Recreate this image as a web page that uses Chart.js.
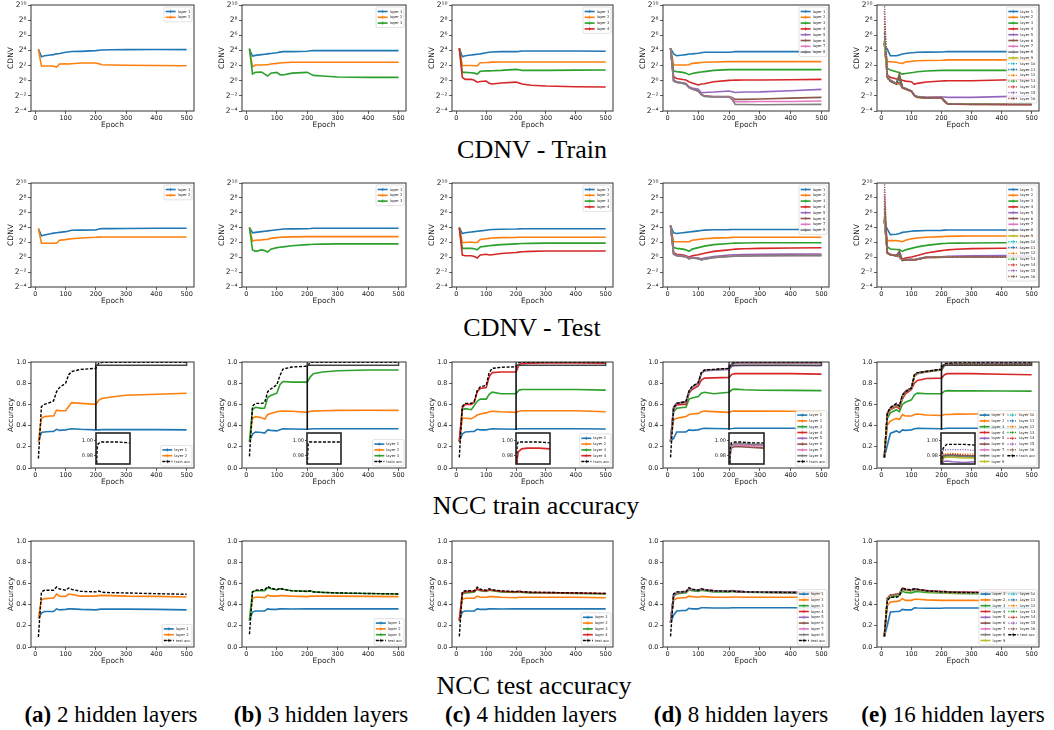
<!DOCTYPE html>
<html><head><meta charset="utf-8">
<script src="https://cdn.jsdelivr.net/npm/chart.js@4.4.0/dist/chart.umd.min.js"></script>
<style>
body{margin:0;background:#fff;width:1054px;height:730px;position:relative;overflow:hidden;}
canvas{position:absolute;}
.cap{position:absolute;font-family:"Liberation Serif","Times New Roman",serif;color:#000;white-space:nowrap;transform:translateX(-50%);line-height:1;}
</style></head><body>
<div class="cap" style="left:532px;top:137px;font-size:26px">CDNV - Train</div>
<div class="cap" style="left:532px;top:315px;font-size:26px">CDNV - Test</div>
<div class="cap" style="left:536px;top:493px;font-size:26px">NCC train accuracy</div>
<div class="cap" style="left:534px;top:673px;font-size:26px">NCC test accuracy</div>
<div class="cap" style="left:111px;top:703px;font-size:23px"><b>(a)</b> 2 hidden layers</div>
<div class="cap" style="left:321px;top:703px;font-size:23px"><b>(b)</b> 3 hidden layers</div>
<div class="cap" style="left:531px;top:703px;font-size:23px"><b>(c)</b> 4 hidden layers</div>
<div class="cap" style="left:741px;top:703px;font-size:23px"><b>(d)</b> 8 hidden layers</div>
<div class="cap" style="left:953px;top:703px;font-size:23px"><b>(e)</b> 16 hidden layers</div>
<script>
// ---------------- DATA ----------------
const EPOCHS = [10,20,30,50,60,70,80,100,110,120,150,200,210,220,250,300,400,500];
const EPOCH_TICKS = [0,100,200,300,400,500];
const CDNV_TICKS = [-4,-2,0,2,4,6,8,10];   // log2 of CDNV
const ACC_TICKS = [0,0.2,0.4,0.6,0.8,1.0];
const INSET_TICKS = [0.98,1.00];

// CDNV - Train (log2 CDNV), one row per layer
const cdnvTrain2 = [
 [4.15,3.17,3.3,3.4,3.45,3.55,3.6,3.75,3.8,3.85,3.88,3.97,4.02,4.05,4.08,4.1,4.12,4.1],
 [4.15,1.94,1.95,1.95,1.9,1.8,2.2,2.25,2.2,2.25,2.34,2.34,2.25,2.1,2.07,2.05,2.0,1.98]
];
const cdnvTrain3 = [
 [4.15,3.26,3.35,3.45,3.5,3.55,3.6,3.7,3.78,3.84,3.84,3.9,3.95,3.97,3.97,3.97,3.98,3.97],
 [4.15,1.85,2.07,2.07,2.1,2.1,2.2,2.29,2.35,2.38,2.43,2.43,2.43,2.43,2.43,2.43,2.43,2.43],
 [4.28,0.88,1.1,1.15,0.88,0.62,1.0,1.1,0.8,0.75,1.0,1.1,0.9,0.7,0.62,0.49,0.44,0.44]
];
const cdnvTrain4 = [
 [4.28,3.17,3.3,3.4,3.45,3.5,3.55,3.7,3.75,3.8,3.84,3.84,3.88,3.93,3.93,3.93,3.93,3.9],
 [4.28,1.98,2.0,2.0,1.98,1.98,2.38,2.4,2.42,2.45,2.47,2.47,2.47,2.47,2.47,2.47,2.47,2.47],
 [4.28,1.1,1.1,1.06,1.0,0.88,1.24,1.3,1.3,1.32,1.37,1.5,1.45,1.37,1.37,1.37,1.4,1.42],
 [4.28,0.45,0.18,0.18,0.05,-0.2,-0.1,-0.04,-0.35,-0.44,-0.3,-0.18,-0.3,-0.44,-0.6,-0.7,-0.79,-0.84]
];
const cdnvTrain8 = [
 [4.28,3.53,3.3,3.4,3.45,3.53,3.55,3.62,3.7,3.75,3.75,3.75,3.8,3.84,3.84,3.84,3.84,3.84],
 [4.28,2.07,2.07,2.07,2.07,2.1,2.29,2.35,2.4,2.43,2.47,2.52,2.52,2.52,2.52,2.52,2.52,2.52],
 [4.28,1.28,1.2,1.1,1.0,0.79,0.95,1.1,1.15,1.2,1.37,1.46,1.46,1.46,1.46,1.46,1.46,1.46],
 [4.28,0.53,0.3,0.15,0.09,-0.13,-0.3,-0.57,-0.44,-0.4,-0.13,0.05,0.07,0.08,0.09,0.09,0.12,0.18],
 [4.3,0.09,-0.13,-0.26,-0.35,-0.79,-0.97,-1.14,-1.59,-1.55,-1.5,-1.36,-1.45,-1.55,-1.5,-1.48,-1.33,-1.14],
 [4.3,0.0,-0.17,-0.3,-0.44,-0.88,-1.06,-1.33,-1.8,-2.0,-2.1,-2.1,-2.2,-2.46,-2.46,-2.42,-2.3,-2.2],
 [4.3,-0.02,-0.2,-0.32,-0.46,-0.9,-1.08,-1.36,-1.85,-2.05,-2.12,-2.12,-2.3,-2.77,-2.77,-2.75,-2.75,-2.68],
 [4.3,-0.05,-0.22,-0.35,-0.48,-0.92,-1.1,-1.38,-1.88,-2.08,-2.15,-2.15,-2.5,-3.12,-3.15,-3.17,-3.15,-3.12]
];
const cdnvTrain16 = [
 [4.6,4.15,3.3,3.3,3.4,3.53,3.6,3.7,3.72,3.75,3.78,3.8,3.82,3.84,3.84,3.84,3.84,3.84],
 [5.0,2.52,2.5,2.43,2.35,2.29,2.47,2.55,2.6,2.64,2.67,2.7,2.72,2.75,2.75,2.75,2.75,2.75],
 [5.0,1.63,1.41,1.19,1.06,0.88,0.95,1.06,1.12,1.19,1.28,1.37,1.37,1.37,1.37,1.37,1.37,1.35],
 [5.0,0.75,0.44,0.22,0.22,0.05,-0.05,-0.13,-0.48,-0.35,-0.17,-0.04,-0.02,0.0,0.0,0.0,0.09,0.18],
 [5.0,0.62,0.09,-0.35,0.5,-0.88,-1.0,-1.33,-1.9,-2.1,-2.2,-2.15,-2.15,-2.2,-2.2,-2.2,-2.1,-2.0],
 [5.0,0.6,0.05,-0.38,0.9,-0.85,-1.02,-1.35,-1.92,-2.12,-2.22,-2.2,-2.6,-3.03,-3.06,-3.08,-3.1,-3.12],
 [5.0,0.55,0.0,-0.4,-0.3,-0.9,-1.05,-1.36,-1.95,-2.15,-2.25,-2.22,-2.65,-3.05,-3.08,-3.1,-3.12,-3.12],
 [5.2,0.5,-0.05,-0.42,-0.35,-0.92,-1.08,-1.38,-1.97,-2.17,-2.27,-2.25,-2.7,-3.07,-3.1,-3.12,-3.14,-3.15],
 [5.4,0.45,-0.1,-0.45,-0.4,-0.95,-1.1,-1.4,-2.0,-2.2,-2.3,-2.28,-2.75,-3.08,-3.1,-3.12,-3.14,-3.15],
 [5.8,0.5,-0.05,-0.4,-0.2,-0.9,-1.05,-1.38,-1.95,-2.15,-2.25,-2.22,-2.7,-3.05,-3.08,-3.1,-3.12,-3.1],
 [6.3,0.45,-0.08,-0.42,0.2,-0.92,-1.08,-1.4,-1.97,-2.18,-2.28,-2.25,-2.72,-3.07,-3.1,-3.12,-3.13,-3.13],
 [6.8,0.4,-0.1,-0.45,-0.3,-0.95,-1.1,-1.42,-2.0,-2.2,-2.3,-2.28,-2.75,-3.08,-3.1,-3.12,-3.14,-3.14],
 [7.5,0.45,-0.05,-0.4,0.7,-0.9,-1.05,-1.38,-1.95,-2.15,-2.25,-2.22,-2.7,-3.05,-3.08,-3.1,-3.12,-3.12],
 [8.2,0.4,-0.1,-0.42,-0.2,-0.92,-1.08,-1.4,-1.98,-2.18,-2.28,-2.25,-2.72,-3.07,-3.1,-3.12,-3.14,-3.15],
 [9.2,0.38,-0.12,-0.45,-0.35,-0.95,-1.1,-1.42,-2.0,-2.2,-2.3,-2.28,-2.75,-3.08,-3.1,-3.12,-3.15,-3.15],
 [10.5,0.35,-0.15,-0.47,0.4,-0.97,-1.12,-1.45,-2.02,-2.22,-2.32,-2.3,-2.78,-3.1,-3.12,-3.14,-3.16,-3.17]
];

// CDNV - Test (log2 CDNV)
const cdnvTest2 = [
 [3.86,2.9,3.0,3.18,3.25,3.3,3.35,3.45,3.55,3.63,3.65,3.68,3.8,3.86,3.86,3.88,3.9,3.9],
 [3.86,1.88,1.88,1.88,1.88,1.88,2.29,2.38,2.45,2.5,2.6,2.69,2.72,2.74,2.74,2.74,2.74,2.74]
];
const cdnvTest3 = [
 [4.0,3.3,3.35,3.45,3.5,3.55,3.6,3.7,3.75,3.8,3.82,3.85,3.87,3.9,3.9,3.9,3.9,3.9],
 [4.0,2.2,2.3,2.35,2.4,2.4,2.55,2.65,2.7,2.72,2.75,2.78,2.78,2.78,2.78,2.78,2.78,2.78],
 [4.0,1.0,0.8,1.0,0.9,0.7,1.1,1.3,1.35,1.4,1.55,1.7,1.72,1.75,1.77,1.8,1.8,1.8]
];
const cdnvTest4 = [
 [4.0,3.2,3.3,3.4,3.45,3.5,3.55,3.65,3.7,3.75,3.78,3.8,3.82,3.85,3.85,3.85,3.85,3.85],
 [4.0,2.0,2.0,2.05,2.0,2.0,2.4,2.5,2.55,2.6,2.65,2.68,2.7,2.7,2.7,2.7,2.7,2.7],
 [4.0,1.2,1.2,1.2,1.15,1.0,1.4,1.5,1.55,1.6,1.7,1.8,1.82,1.85,1.87,1.9,1.9,1.9],
 [4.0,0.3,0.2,0.2,0.1,-0.1,0.3,0.4,0.3,0.35,0.5,0.65,0.7,0.75,0.8,0.85,0.85,0.85]
];
const cdnvTest8 = [
 [4.2,3.3,3.2,3.3,3.35,3.4,3.45,3.55,3.6,3.65,3.7,3.72,3.75,3.75,3.75,3.75,3.75,3.75],
 [4.2,2.1,2.1,2.1,2.1,2.1,2.3,2.4,2.45,2.5,2.58,2.65,2.68,2.7,2.7,2.7,2.7,2.7],
 [4.2,1.3,1.2,1.1,1.0,0.8,1.1,1.3,1.4,1.5,1.7,1.85,1.88,1.9,1.92,1.95,1.95,1.95],
 [4.2,0.6,0.4,0.3,0.2,0.0,0.2,0.35,0.45,0.55,0.8,1.0,1.05,1.1,1.15,1.2,1.25,1.28],
 [4.3,0.5,0.3,0.2,0.15,-0.1,0.0,-0.1,-0.2,-0.1,0.1,0.3,0.32,0.35,0.38,0.4,0.42,0.45],
 [4.3,0.45,0.25,0.15,0.1,-0.15,-0.05,-0.15,-0.3,-0.2,0.0,0.15,0.17,0.2,0.22,0.25,0.27,0.28],
 [4.3,0.42,0.22,0.12,0.08,-0.18,-0.08,-0.18,-0.32,-0.22,-0.02,0.12,0.15,0.18,0.2,0.22,0.24,0.25],
 [4.3,0.4,0.2,0.1,0.05,-0.2,-0.1,-0.2,-0.35,-0.25,-0.05,0.1,0.12,0.15,0.18,0.2,0.22,0.22]
];
const cdnvTest16 = [
 [4.6,3.8,3.05,3.1,3.2,3.35,3.4,3.5,3.55,3.55,3.6,3.62,3.65,3.68,3.68,3.68,3.68,3.65],
 [5.0,2.24,2.24,2.24,2.2,2.1,2.3,2.5,2.55,2.6,2.7,2.78,2.8,2.82,2.85,2.87,2.87,2.85],
 [5.0,1.4,1.12,1.05,1.03,0.8,1.0,1.2,1.3,1.4,1.6,1.84,1.86,1.88,1.9,1.93,1.95,1.97],
 [5.0,0.67,0.36,0.3,0.25,-0.3,-0.1,0.05,0.15,0.25,0.58,0.9,0.95,1.0,1.08,1.17,1.22,1.26],
 [5.0,0.6,0.4,0.25,0.6,-0.35,-0.3,-0.28,-0.3,-0.2,0.05,0.08,0.1,0.12,0.15,0.2,0.22,0.25],
 [5.0,0.58,0.36,0.22,0.8,-0.4,-0.35,-0.31,-0.35,-0.25,0.0,0.02,0.03,0.04,0.05,0.06,0.06,0.06],
 [5.2,0.55,0.34,0.2,0.1,-0.42,-0.37,-0.33,-0.37,-0.27,-0.02,0.0,0.02,0.03,0.04,0.05,0.05,0.05],
 [5.4,0.57,0.35,0.21,0.15,-0.41,-0.36,-0.32,-0.36,-0.26,-0.01,0.01,0.02,0.04,0.05,0.05,0.06,0.05],
 [5.6,0.54,0.33,0.19,0.05,-0.43,-0.38,-0.34,-0.38,-0.28,-0.03,-0.01,0.01,0.02,0.03,0.04,0.04,0.04],
 [6.0,0.56,0.35,0.21,0.3,-0.41,-0.36,-0.32,-0.36,-0.26,-0.01,0.01,0.02,0.04,0.05,0.05,0.06,0.06],
 [6.5,0.55,0.34,0.2,0.6,-0.42,-0.37,-0.33,-0.37,-0.27,-0.02,0.0,0.02,0.03,0.04,0.05,0.05,0.05],
 [7.0,0.57,0.36,0.22,0.2,-0.4,-0.35,-0.31,-0.35,-0.25,0.0,0.02,0.03,0.05,0.06,0.07,0.07,0.07],
 [7.6,0.56,0.35,0.21,0.4,-0.41,-0.36,-0.32,-0.36,-0.26,-0.01,0.01,0.02,0.04,0.05,0.06,0.06,0.06],
 [8.3,0.55,0.34,0.2,0.1,-0.42,-0.37,-0.33,-0.37,-0.27,-0.02,0.0,0.01,0.03,0.04,0.05,0.05,0.05],
 [9.2,0.54,0.33,0.19,0.0,-0.43,-0.38,-0.34,-0.38,-0.28,-0.03,-0.01,0.0,0.02,0.03,0.04,0.04,0.04],
 [10.5,0.53,0.32,0.18,0.5,-0.44,-0.39,-0.35,-0.39,-0.29,-0.04,-0.02,0.0,0.01,0.02,0.03,0.03,0.03]
];

// NCC train accuracy
const nccTrain2 = [
 [0.25,0.335,0.34,0.345,0.345,0.365,0.355,0.36,0.365,0.37,0.365,0.36,0.36,0.362,0.362,0.362,0.362,0.36],
 [0.25,0.47,0.485,0.49,0.49,0.545,0.54,0.54,0.58,0.617,0.61,0.6,0.64,0.655,0.67,0.686,0.696,0.705]
];
const nccTrainAcc2 = [0.09,0.58,0.6,0.62,0.633,0.72,0.76,0.8,0.88,0.91,0.93,0.94,0.99,0.996,0.998,0.998,0.998,0.997];
const nccTrain3 = [
 [0.25,0.32,0.34,0.335,0.33,0.36,0.355,0.35,0.36,0.37,0.368,0.365,0.368,0.37,0.37,0.37,0.37,0.37],
 [0.25,0.47,0.485,0.475,0.46,0.505,0.515,0.53,0.535,0.537,0.535,0.525,0.535,0.537,0.54,0.544,0.545,0.544],
 [0.25,0.554,0.573,0.563,0.565,0.665,0.684,0.706,0.785,0.816,0.81,0.81,0.86,0.89,0.905,0.918,0.925,0.925]
];
const nccTrainAcc3 = [0.11,0.585,0.61,0.61,0.617,0.72,0.745,0.785,0.87,0.933,0.953,0.96,0.996,0.998,0.998,0.998,0.998,0.998];
const nccTrain4 = [
 [0.25,0.32,0.34,0.345,0.345,0.365,0.36,0.36,0.365,0.37,0.368,0.365,0.37,0.37,0.37,0.37,0.37,0.368],
 [0.25,0.47,0.47,0.465,0.48,0.5,0.51,0.52,0.53,0.535,0.53,0.525,0.535,0.54,0.54,0.54,0.54,0.53],
 [0.25,0.55,0.56,0.55,0.59,0.63,0.65,0.65,0.695,0.715,0.7,0.7,0.735,0.74,0.74,0.74,0.74,0.735],
 [0.25,0.57,0.6,0.6,0.62,0.72,0.75,0.76,0.86,0.9,0.905,0.905,0.975,0.985,0.989,0.99,0.99,0.989]
];
const nccTrainAcc4 = [0.1,0.58,0.61,0.61,0.63,0.73,0.765,0.78,0.9,0.94,0.95,0.955,0.995,0.998,0.998,0.998,0.998,0.997];
const nccTrain8 = [
 [0.25,0.28,0.34,0.34,0.34,0.36,0.355,0.36,0.37,0.375,0.372,0.37,0.372,0.375,0.375,0.375,0.375,0.372],
 [0.25,0.455,0.47,0.48,0.485,0.505,0.51,0.515,0.53,0.537,0.532,0.525,0.535,0.537,0.537,0.537,0.535,0.53],
 [0.25,0.53,0.563,0.57,0.573,0.65,0.66,0.674,0.706,0.715,0.7,0.715,0.74,0.744,0.738,0.734,0.732,0.73],
 [0.25,0.56,0.595,0.6,0.6,0.706,0.74,0.775,0.83,0.848,0.85,0.855,0.885,0.89,0.89,0.89,0.89,0.886],
 [0.25,0.57,0.61,0.615,0.62,0.72,0.76,0.8,0.895,0.915,0.922,0.93,0.96,0.965,0.967,0.967,0.967,0.965],
 [0.25,0.57,0.61,0.62,0.62,0.72,0.76,0.8,0.895,0.92,0.927,0.937,0.98,0.99,0.992,0.992,0.991,0.99],
 [0.25,0.57,0.61,0.62,0.62,0.72,0.76,0.8,0.895,0.92,0.927,0.937,0.982,0.992,0.994,0.994,0.993,0.993],
 [0.25,0.57,0.61,0.62,0.62,0.72,0.76,0.8,0.895,0.92,0.927,0.937,0.985,0.994,0.996,0.996,0.995,0.995]
];
const nccTrainAcc8 = [0.1,0.57,0.61,0.62,0.625,0.725,0.77,0.805,0.9,0.925,0.93,0.94,0.99,0.997,0.998,0.998,0.997,0.997];
const nccTrain16 = [
 [0.1,0.215,0.326,0.35,0.335,0.36,0.355,0.36,0.37,0.375,0.372,0.37,0.372,0.375,0.375,0.375,0.375,0.372],
 [0.1,0.405,0.443,0.468,0.458,0.505,0.49,0.49,0.505,0.51,0.5,0.495,0.505,0.505,0.508,0.51,0.51,0.51],
 [0.1,0.468,0.52,0.55,0.53,0.6,0.62,0.643,0.69,0.706,0.7,0.7,0.725,0.73,0.728,0.728,0.726,0.725],
 [0.1,0.5,0.55,0.58,0.56,0.65,0.7,0.74,0.8,0.826,0.845,0.848,0.88,0.89,0.89,0.89,0.885,0.88],
 [0.1,0.51,0.555,0.59,0.575,0.67,0.715,0.75,0.865,0.89,0.905,0.925,0.965,0.972,0.973,0.972,0.971,0.972],
 [0.1,0.515,0.56,0.595,0.58,0.674,0.72,0.753,0.87,0.895,0.91,0.927,0.972,0.979,0.98,0.98,0.979,0.978],
 [0.1,0.52,0.565,0.6,0.585,0.678,0.722,0.755,0.872,0.897,0.912,0.928,0.973,0.98,0.981,0.981,0.98,0.98],
 [0.1,0.515,0.56,0.595,0.58,0.675,0.72,0.753,0.87,0.896,0.91,0.927,0.972,0.979,0.98,0.98,0.98,0.979],
 [0.1,0.51,0.558,0.593,0.578,0.672,0.718,0.752,0.868,0.894,0.908,0.926,0.97,0.977,0.978,0.978,0.977,0.977],
 [0.1,0.518,0.562,0.597,0.582,0.676,0.721,0.754,0.871,0.896,0.911,0.928,0.973,0.98,0.981,0.981,0.98,0.98],
 [0.1,0.516,0.561,0.596,0.581,0.675,0.72,0.753,0.87,0.895,0.91,0.927,0.972,0.98,0.98,0.98,0.98,0.979],
 [0.1,0.52,0.565,0.6,0.585,0.68,0.725,0.757,0.873,0.898,0.913,0.93,0.975,0.982,0.983,0.983,0.982,0.982],
 [0.1,0.517,0.562,0.597,0.582,0.676,0.721,0.754,0.871,0.896,0.911,0.928,0.973,0.98,0.98,0.981,0.98,0.98],
 [0.1,0.519,0.563,0.598,0.583,0.677,0.722,0.755,0.872,0.897,0.912,0.929,0.974,0.981,0.981,0.982,0.981,0.98],
 [0.1,0.522,0.567,0.602,0.587,0.682,0.727,0.76,0.876,0.9,0.915,0.932,0.98,0.987,0.988,0.988,0.988,0.987],
 [0.1,0.518,0.563,0.598,0.583,0.677,0.722,0.755,0.872,0.897,0.912,0.929,0.973,0.98,0.981,0.981,0.98,0.98]
];
const nccTrainAcc16 = [0.1,0.52,0.57,0.61,0.585,0.69,0.72,0.753,0.88,0.9,0.91,0.933,0.985,0.99,0.995,0.995,0.995,0.994];

// NCC test accuracy
const nccTest2 = [
 [0.27,0.32,0.335,0.335,0.335,0.36,0.35,0.355,0.36,0.36,0.355,0.35,0.355,0.357,0.357,0.357,0.355,0.35],
 [0.27,0.446,0.456,0.46,0.46,0.5,0.48,0.478,0.5,0.495,0.48,0.48,0.485,0.487,0.485,0.48,0.478,0.472]
];
const nccTestAcc2 = [0.095,0.52,0.535,0.535,0.535,0.566,0.547,0.535,0.557,0.544,0.525,0.52,0.528,0.516,0.513,0.51,0.503,0.497];
const nccTest3 = [
 [0.25,0.33,0.34,0.34,0.34,0.36,0.355,0.355,0.36,0.36,0.358,0.36,0.36,0.36,0.36,0.36,0.36,0.36],
 [0.25,0.46,0.47,0.47,0.465,0.49,0.48,0.48,0.485,0.485,0.48,0.475,0.48,0.48,0.48,0.48,0.478,0.475],
 [0.25,0.52,0.53,0.53,0.53,0.56,0.55,0.54,0.55,0.545,0.53,0.525,0.53,0.52,0.515,0.51,0.505,0.5]
];
const nccTestAcc3 = [0.12,0.52,0.535,0.54,0.54,0.57,0.555,0.54,0.555,0.545,0.53,0.525,0.53,0.52,0.515,0.51,0.505,0.5];
const nccTest4 = [
 [0.25,0.33,0.34,0.34,0.34,0.36,0.355,0.355,0.36,0.36,0.358,0.36,0.36,0.36,0.36,0.36,0.36,0.36],
 [0.25,0.45,0.46,0.46,0.46,0.48,0.47,0.47,0.475,0.475,0.47,0.465,0.47,0.47,0.47,0.47,0.47,0.465],
 [0.25,0.5,0.51,0.515,0.52,0.545,0.53,0.525,0.535,0.53,0.52,0.515,0.52,0.515,0.51,0.51,0.505,0.5],
 [0.25,0.51,0.52,0.525,0.525,0.55,0.535,0.53,0.54,0.535,0.525,0.52,0.525,0.52,0.515,0.513,0.51,0.505]
];
const nccTestAcc4 = [0.1,0.52,0.53,0.53,0.53,0.565,0.545,0.535,0.55,0.54,0.53,0.522,0.528,0.52,0.517,0.515,0.51,0.505];
const nccTest8 = [
 [0.23,0.3,0.34,0.345,0.345,0.365,0.36,0.36,0.37,0.37,0.368,0.368,0.37,0.37,0.37,0.37,0.37,0.368],
 [0.23,0.44,0.46,0.465,0.465,0.48,0.475,0.47,0.475,0.475,0.47,0.47,0.472,0.472,0.47,0.47,0.47,0.468],
 [0.23,0.48,0.5,0.51,0.51,0.54,0.53,0.525,0.535,0.53,0.52,0.52,0.525,0.52,0.518,0.515,0.513,0.51],
 [0.23,0.49,0.51,0.52,0.52,0.55,0.54,0.535,0.545,0.54,0.53,0.525,0.53,0.525,0.52,0.518,0.515,0.512],
 [0.23,0.49,0.512,0.522,0.522,0.552,0.542,0.537,0.547,0.542,0.532,0.527,0.532,0.527,0.522,0.52,0.517,0.514],
 [0.23,0.488,0.508,0.518,0.518,0.548,0.538,0.533,0.543,0.538,0.528,0.523,0.528,0.523,0.518,0.516,0.513,0.51],
 [0.23,0.492,0.513,0.523,0.523,0.553,0.543,0.538,0.548,0.543,0.533,0.528,0.533,0.528,0.523,0.521,0.518,0.515],
 [0.23,0.49,0.51,0.52,0.52,0.55,0.54,0.535,0.545,0.54,0.53,0.525,0.53,0.525,0.52,0.518,0.515,0.512]
];
const nccTestAcc8 = [0.1,0.5,0.52,0.52,0.52,0.56,0.545,0.535,0.55,0.54,0.53,0.525,0.53,0.525,0.52,0.518,0.515,0.512];
const nccTest16 = [
 [0.1,0.205,0.33,0.335,0.335,0.355,0.35,0.35,0.37,0.368,0.365,0.365,0.368,0.368,0.368,0.368,0.368,0.365],
 [0.1,0.39,0.425,0.43,0.435,0.456,0.44,0.44,0.45,0.45,0.445,0.44,0.44,0.44,0.44,0.44,0.438,0.434],
 [0.1,0.456,0.47,0.48,0.487,0.525,0.515,0.51,0.52,0.525,0.515,0.51,0.51,0.508,0.505,0.503,0.503,0.503],
 [0.1,0.456,0.487,0.495,0.5,0.55,0.54,0.535,0.545,0.54,0.53,0.52,0.52,0.518,0.515,0.513,0.512,0.51],
 [0.1,0.46,0.49,0.498,0.503,0.553,0.543,0.538,0.548,0.543,0.533,0.523,0.523,0.521,0.518,0.516,0.515,0.513],
 [0.1,0.452,0.484,0.492,0.497,0.547,0.537,0.532,0.542,0.537,0.527,0.517,0.517,0.515,0.512,0.51,0.509,0.507],
 [0.1,0.458,0.489,0.497,0.502,0.552,0.542,0.537,0.547,0.542,0.532,0.522,0.522,0.52,0.517,0.515,0.514,0.512],
 [0.1,0.455,0.486,0.494,0.499,0.549,0.539,0.534,0.544,0.539,0.529,0.519,0.519,0.517,0.514,0.512,0.511,0.509],
 [0.1,0.45,0.482,0.49,0.495,0.545,0.535,0.53,0.54,0.535,0.525,0.515,0.515,0.513,0.51,0.508,0.507,0.505],
 [0.1,0.457,0.488,0.496,0.501,0.551,0.541,0.536,0.546,0.541,0.531,0.521,0.521,0.519,0.516,0.514,0.513,0.511],
 [0.1,0.454,0.485,0.493,0.498,0.548,0.538,0.533,0.543,0.538,0.528,0.518,0.518,0.516,0.513,0.511,0.51,0.508],
 [0.1,0.459,0.49,0.498,0.503,0.553,0.543,0.538,0.548,0.543,0.533,0.523,0.523,0.521,0.518,0.516,0.515,0.513],
 [0.1,0.456,0.487,0.495,0.5,0.55,0.54,0.535,0.545,0.54,0.53,0.52,0.52,0.518,0.515,0.513,0.512,0.51],
 [0.1,0.461,0.492,0.5,0.505,0.555,0.545,0.54,0.55,0.545,0.535,0.525,0.525,0.523,0.52,0.518,0.517,0.515],
 [0.1,0.453,0.484,0.492,0.497,0.547,0.537,0.532,0.542,0.537,0.527,0.517,0.517,0.515,0.512,0.51,0.509,0.507],
 [0.1,0.457,0.488,0.496,0.501,0.551,0.541,0.536,0.546,0.541,0.531,0.521,0.521,0.519,0.516,0.514,0.513,0.511]
];
const nccTestAcc16 = [0.1,0.44,0.47,0.47,0.48,0.56,0.545,0.54,0.55,0.545,0.53,0.52,0.522,0.518,0.515,0.513,0.512,0.51];

// ---------------- STYLE / LAYOUT ----------------
const COLORS = ['#1f77b4','#ff7f0e','#2ca02c','#d62728','#9467bd','#8c564b','#e377c2','#7f7f7f','#bcbd22','#17becf'];
const COLS = [[31,194],[242,406],[452,613],[663,829],[877,1039]];
const ROWS = [[5,111],[183,287],[362,468],[541,647]];
const YW = 31, PT = 6, PR = 8, XH = 21;
const FONT = '"DejaVu Sans", sans-serif';
Chart.defaults.font.family = FONT;
Chart.defaults.color = '#222';

const SUP = {'-':'\u207B','0':'\u2070','1':'\u00B9','2':'\u00B2','3':'\u00B3','4':'\u2074','5':'\u2075','6':'\u2076','7':'\u2077','8':'\u2078','9':'\u2079'};
function pow2Label(v){ return '2' + String(Math.round(v)).split('').map(ch => SUP[ch]).join(''); }

function buildDatasets(series, acc, accLabel){
  const n = series.length + (acc ? 1 : 0);
  const out = series.map((vals, i) => ({
    label: 'layer ' + (i + 1),
    data: vals.map((v, j) => ({x: EPOCHS[j], y: v})),
    borderColor: COLORS[i % 10],
    borderWidth: i >= 9 ? 1.3 : 1.6,
    borderDash: i >= 9 ? [1.2, 1.3] : [],
    pointRadius: 0, tension: 0, fill: false, order: n - i
  }));
  if (acc) out.push({
    label: accLabel,
    data: acc.map((v, j) => ({x: EPOCHS[j], y: v})),
    borderColor: '#000', borderWidth: 1.4, borderDash: [3, 1.6],
    pointRadius: 0, tension: 0, fill: false, order: 0
  });
  return out;
}

const framePlugin = {
  id: 'frame',
  afterDraw(chart){
    const {ctx, chartArea: a} = chart;
    ctx.save(); ctx.strokeStyle = '#333'; ctx.lineWidth = 1;
    ctx.strokeRect(a.left, a.top, a.right - a.left, a.bottom - a.top);
    ctx.restore();
  }
};

function makeLegendPlugin(loc, ncol){
  return {
    id: 'mplLegend',
    afterDatasetsDraw(chart){
      const ctx = chart.ctx, a = chart.chartArea, ds = chart.data.datasets;
      const fs = 3.7, rowH = 5.8, hl = 10, gap = 2, pad = 1.6, colGap = 3;
      ctx.save();
      ctx.font = fs + 'px ' + FONT;
      const n = ds.length, nrow = Math.ceil(n / ncol);
      const colW = [];
      for (let c = 0; c < ncol; c++) {
        let w = 0;
        for (let r = 0; r < nrow; r++) { const i = c * nrow + r; if (i < n) w = Math.max(w, ctx.measureText(ds[i].label).width); }
        colW.push(hl + gap + w);
      }
      const boxW = pad * 2 + colW.reduce((s, v) => s + v, 0) + colGap * (ncol - 1);
      const boxH = pad * 2 + nrow * rowH;
      const x0 = a.right - 2 - boxW;
      const y0 = loc === 'ur' ? a.top + 2 : a.bottom - 2 - boxH;
      ctx.beginPath();
      if (ctx.roundRect) ctx.roundRect(x0, y0, boxW, boxH, 1.5); else ctx.rect(x0, y0, boxW, boxH);
      ctx.fillStyle = 'rgba(255,255,255,0.85)'; ctx.fill();
      ctx.strokeStyle = '#cfcfcf'; ctx.lineWidth = 0.6; ctx.stroke();
      let cx = x0 + pad;
      for (let c = 0; c < ncol; c++) {
        for (let r = 0; r < nrow; r++) {
          const i = c * nrow + r; if (i >= n) break;
          const d = ds[i]; const y = y0 + pad + r * rowH + rowH / 2;
          ctx.strokeStyle = d.borderColor; ctx.lineWidth = d.borderWidth;
          ctx.setLineDash(d.borderDash || []);
          ctx.beginPath(); ctx.moveTo(cx, y); ctx.lineTo(cx + hl, y); ctx.stroke();
          ctx.setLineDash([]); ctx.lineWidth = 0.7;
          const mx = cx + hl / 2;
          ctx.beginPath(); ctx.moveTo(mx - 1.7, y); ctx.lineTo(mx + 1.7, y); ctx.moveTo(mx, y - 1.7); ctx.lineTo(mx, y + 1.7); ctx.stroke();
          ctx.fillStyle = '#222'; ctx.textBaseline = 'middle'; ctx.textAlign = 'left';
          ctx.fillText(d.label, cx + hl + gap, y + 0.2);
        }
        cx += colW[c] + colGap;
      }
      ctx.restore();
    }
  };
}

const INSET_X = [200, 500], INSET_Y = [0.969, 1.01];
const markPlugin = {
  id: 'insetMark',
  afterDatasetsDraw(chart){
    const {ctx, chartArea: a, scales: {x, y}} = chart;
    const h = a.bottom - a.top;
    const x1 = x.getPixelForValue(INSET_X[0]), x2 = x.getPixelForValue(INSET_X[1]);
    const y1 = y.getPixelForValue(INSET_Y[1]), y2 = y.getPixelForValue(INSET_Y[0]);
    const insetTop = a.bottom - 0.36 * h;
    ctx.save();
    ctx.beginPath(); ctx.rect(a.left, a.top, a.right - a.left, h); ctx.clip();
    ctx.strokeStyle = '#444'; ctx.lineWidth = 1.5;
    ctx.strokeRect(x1, y1, x2 - x1, y2 - y1);
    ctx.strokeStyle = '#111'; ctx.lineWidth = 1.6;
    ctx.beginPath(); ctx.moveTo(x1, y2); ctx.lineTo(x1, insetTop); ctx.stroke();
    ctx.restore();
  }
};

const insetBgPlugin = {
  id: 'insetBg',
  beforeDatasetsDraw(chart){
    const {ctx, chartArea: a} = chart;
    ctx.save(); ctx.fillStyle = '#fff'; ctx.fillRect(a.left, a.top, a.right - a.left, a.bottom - a.top); ctx.restore();
  },
  afterDraw(chart){
    const {ctx, chartArea: a} = chart;
    ctx.save(); ctx.strokeStyle = '#222'; ctx.lineWidth = 1.6;
    ctx.strokeRect(a.left, a.top, a.right - a.left, a.bottom - a.top); ctx.restore();
  }
};

function axisCommon(){
  return {
    grid: {drawOnChartArea: false, drawTicks: true, tickLength: 3, color: '#333', lineWidth: 0.8},
    border: {display: false}
  };
}

function makeChart(r, c, series, acc, kind, legendLoc, ncol, withInset){
  const [l, rr] = COLS[c], [t, b] = ROWS[r];
  const cv = document.createElement('canvas');
  const W = YW + (rr - l) + PR, H = PT + (b - t) + XH;
  cv.width = W; cv.height = H;
  const cl = l - YW, ct = t - PT;
  cv.style.left = cl + 'px'; cv.style.top = ct + 'px';
  document.body.appendChild(cv);
  const isC = kind === 'cdnv';
  const accLabel = r === 2 ? 'train acc' : 'test acc';
  const plugins = [framePlugin, makeLegendPlugin(legendLoc, ncol)];
  if (withInset) plugins.push(markPlugin);
  const chart = new Chart(cv, {
    type: 'line',
    data: {datasets: buildDatasets(series, acc, accLabel)},
    options: {
      responsive: false, animation: false, devicePixelRatio: 1,
      layout: {padding: {top: PT, right: PR, left: 0, bottom: 0}},
      plugins: {legend: {display: false}, tooltip: {enabled: false}},
      scales: {
        x: Object.assign(axisCommon(), {
          type: 'linear', min: -14.5, max: 524.5,
          afterBuildTicks: s => { s.ticks = EPOCH_TICKS.map(v => ({value: v})); },
          afterFit: s => { s.height = XH; },
          ticks: {font: {size: 6.5}, padding: 0.5, maxRotation: 0, autoSkip: false, color: '#222'},
          title: {display: true, text: 'Epoch', font: {size: 7.5}, color: '#222', padding: {top: 0, bottom: 2.5}}
        }),
        y: Object.assign(axisCommon(), {
          type: 'linear', min: isC ? -4 : 0, max: isC ? 10 : 1,
          afterBuildTicks: s => { s.ticks = (isC ? CDNV_TICKS : ACC_TICKS).map(v => ({value: v})); },
          afterFit: s => { s.width = YW; },
          ticks: {font: {size: isC ? 7.5 : 6.5}, padding: 1.5, color: '#222',
                  callback: v => isC ? pow2Label(v) : Number(v).toFixed(1)},
          title: {display: true, text: isC ? 'CDNV' : 'Accuracy', font: {size: 7.5}, color: '#222', padding: {top: 6.5, bottom: 0}}
        })
      }
    },
    plugins
  });
  if (withInset) addInset(chart, series, acc, accLabel, cl, ct);
  return chart;
}

function addInset(main, series, acc, accLabel, cl, ct){
  const a = main.chartArea, xs = main.scales.x;
  const w = a.right - a.left, h = a.bottom - a.top;
  const bl = xs.getPixelForValue(INSET_X[0]);
  const bw = 0.21 * w;
  const bt = a.bottom - 0.36 * h, bb = a.bottom - 0.01 * h;
  const LW = 16;
  const cv = document.createElement('canvas');
  const W = Math.round(LW + bw + 2), H = Math.round(bb - bt + 2);
  cv.width = W; cv.height = H;
  cv.style.left = (cl + bl - LW) + 'px'; cv.style.top = (ct + bt - 1) + 'px';
  document.body.appendChild(cv);
  new Chart(cv, {
    type: 'line',
    data: {datasets: buildDatasets(series, acc, accLabel).map(d => Object.assign(d, {clip: 0}))},
    options: {
      responsive: false, animation: false, devicePixelRatio: 1,
      layout: {padding: {top: 1, right: 2, left: 0, bottom: 1}},
      plugins: {legend: {display: false}, tooltip: {enabled: false}},
      scales: {
        x: {type: 'linear', display: false, min: INSET_X[0], max: INSET_X[1]},
        y: {type: 'linear', min: INSET_Y[0], max: INSET_Y[1],
            afterBuildTicks: s => { s.ticks = INSET_TICKS.map(v => ({value: v})); },
            afterFit: s => { s.width = LW; },
            ticks: {font: {size: 5}, padding: 1, color: '#222', callback: v => Number(v).toFixed(2)},
            grid: {drawOnChartArea: false, drawTicks: true, tickLength: 2, color: '#333', lineWidth: 0.8},
            border: {display: false}}
      }
    },
    plugins: [insetBgPlugin]
  });
}

// ---------------- BUILD ----------------
const cdnvTrainAll = [cdnvTrain2, cdnvTrain3, cdnvTrain4, cdnvTrain8, cdnvTrain16];
const cdnvTestAll = [cdnvTest2, cdnvTest3, cdnvTest4, cdnvTest8, cdnvTest16];
const nccTrainAll = [nccTrain2, nccTrain3, nccTrain4, nccTrain8, nccTrain16];
const nccTrainAccAll = [nccTrainAcc2, nccTrainAcc3, nccTrainAcc4, nccTrainAcc8, nccTrainAcc16];
const nccTestAll = [nccTest2, nccTest3, nccTest4, nccTest8, nccTest16];
const nccTestAccAll = [nccTestAcc2, nccTestAcc3, nccTestAcc4, nccTestAcc8, nccTestAcc16];

for (let c = 0; c < 5; c++) {
  makeChart(0, c, cdnvTrainAll[c], null, 'cdnv', 'ur', 1, false);
  makeChart(1, c, cdnvTestAll[c], null, 'cdnv', 'ur', 1, false);
  makeChart(2, c, nccTrainAll[c], nccTrainAccAll[c], 'acc', 'lr', c === 4 ? 2 : 1, true);
  makeChart(3, c, nccTestAll[c], nccTestAccAll[c], 'acc', 'lr', c === 4 ? 2 : 1, false);
}
</script>
</body></html>
